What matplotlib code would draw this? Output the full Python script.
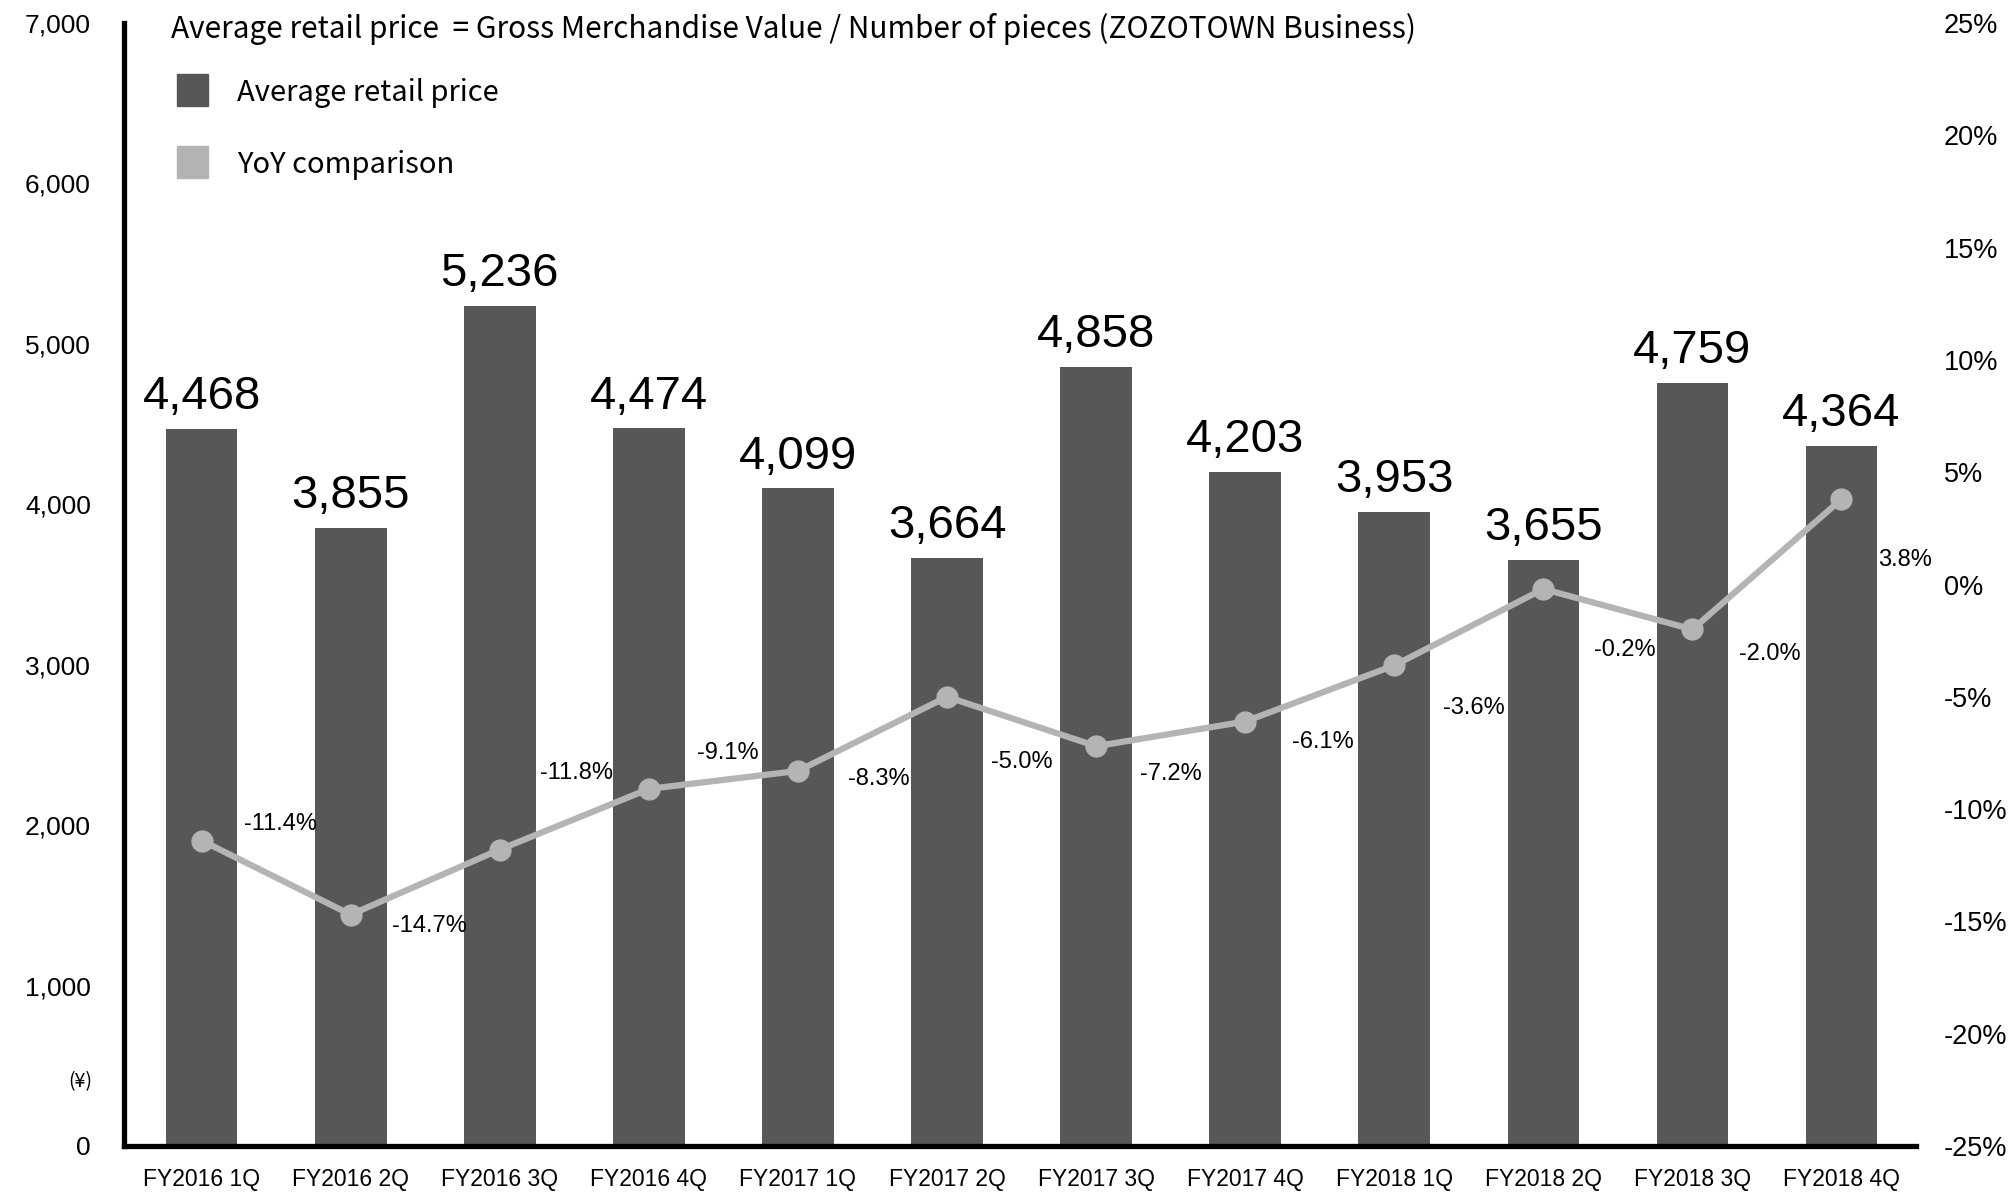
import matplotlib
matplotlib.use("Agg")
import matplotlib.pyplot as plt
from matplotlib.patches import Rectangle

QUARTERS = ["FY2016 1Q", "FY2016 2Q", "FY2016 3Q", "FY2016 4Q",
            "FY2017 1Q", "FY2017 2Q", "FY2017 3Q", "FY2017 4Q",
            "FY2018 1Q", "FY2018 2Q", "FY2018 3Q", "FY2018 4Q"]
AVG_PRICE = [4468, 3855, 5236, 4474, 4099, 3664, 4858, 4203, 3953, 3655, 4759, 4364]
YOY_PCT = [-11.4, -14.7, -11.8, -9.1, -8.3, -5.0, -7.2, -6.1, -3.6, -0.2, -2.0, 3.8]

# where each yoy label sits relative to its point (points)
YOY_LABEL_OFFSETS = [(57, 12), (57, -8), (55, 55), (57, 26), (58, -6), (54, -47),
                     (54, -20), (56, -15), (57, -31), (59, -44), (56, -18), (46, -44)]

BAR_COLOR = "#575757"
LINE_COLOR = "#b3b4b6"
SANS = ["Liberation Sans", "DejaVu Sans"]
JP = ["Noto Sans CJK JP", "DejaVu Sans"]

fig = plt.figure(figsize=(20.12, 11.93), dpi=100)
ax = fig.add_axes([0.0617, 0.0394, 0.8906, 0.9413])

x = list(range(len(QUARTERS)))
ax.bar(x, AVG_PRICE, width=0.48, color=BAR_COLOR, zorder=2)
ax.set_xlim(-0.52, 11.5)
ax.set_ylim(0, 7000)
ax.set_yticks(range(0, 7001, 1000))
ax.set_yticklabels(["{:,}".format(v) for v in range(0, 7001, 1000)], fontfamily=SANS, fontsize=19)
ax.set_xticks(x)
ax.set_xticklabels(QUARTERS, fontfamily=SANS, fontsize=16.5)
ax.tick_params(axis="y", length=0, pad=24)
ax.tick_params(axis="x", length=0, pad=16)
for side in ["top", "right"]:
    ax.spines[side].set_visible(False)
for side in ["left", "bottom"]:
    ax.spines[side].set_linewidth(3.8)
    ax.spines[side].set_color("black")

for xi, v in zip(x, AVG_PRICE):
    ax.annotate("{:,}".format(v), (xi, v), xytext=(0, 7), textcoords="offset points",
                ha="center", va="bottom", fontfamily=SANS, fontsize=34)

ax2 = ax.twinx()
ax2.set_ylim(-25, 25)
ax2.set_yticks(range(-25, 26, 5))
ax2.set_yticklabels(["{}%".format(v) for v in range(-25, 26, 5)], fontfamily=SANS, fontsize=19.5)
ax2.tick_params(axis="y", length=0, pad=20)
for side in ["top", "right", "left", "bottom"]:
    ax2.spines[side].set_visible(False)

ax2.plot(x, YOY_PCT, color=LINE_COLOR, linewidth=4.5, marker="o", markersize=15, zorder=3)
for xi, v, (dx, dy) in zip(x, YOY_PCT, YOY_LABEL_OFFSETS):
    ax2.annotate("{:.1f}%".format(v), (xi, v), xytext=(dx, dy), textcoords="offset points",
                 ha="center", va="center", fontfamily=SANS, fontsize=17)

fig.text(80 / 2012, 1 - 1082 / 1193, "(¥)", ha="center", va="center", fontfamily=JP, fontsize=14)

fig.text(171 / 2012, 1 - 29 / 1193,
         "Average retail price  = Gross Merchandise Value / Number of pieces (ZOZOTOWN Business)",
         ha="left", va="center", fontfamily=JP, fontsize=21.5)

# legend squares
for yc, color, label in [(90, BAR_COLOR, "Average retail price"), (162, "#b3b3b3", "YoY comparison")]:
    fig.add_artist(Rectangle((177 / 2012, 1 - (yc + 16) / 1193), 31 / 2012, 32 / 1193,
                             transform=fig.transFigure, color=color))
    fig.text(237 / 2012, 1 - (yc + 3) / 1193, label, ha="left", va="center", fontfamily=JP, fontsize=21)

plt.savefig("out.png", dpi=100)
